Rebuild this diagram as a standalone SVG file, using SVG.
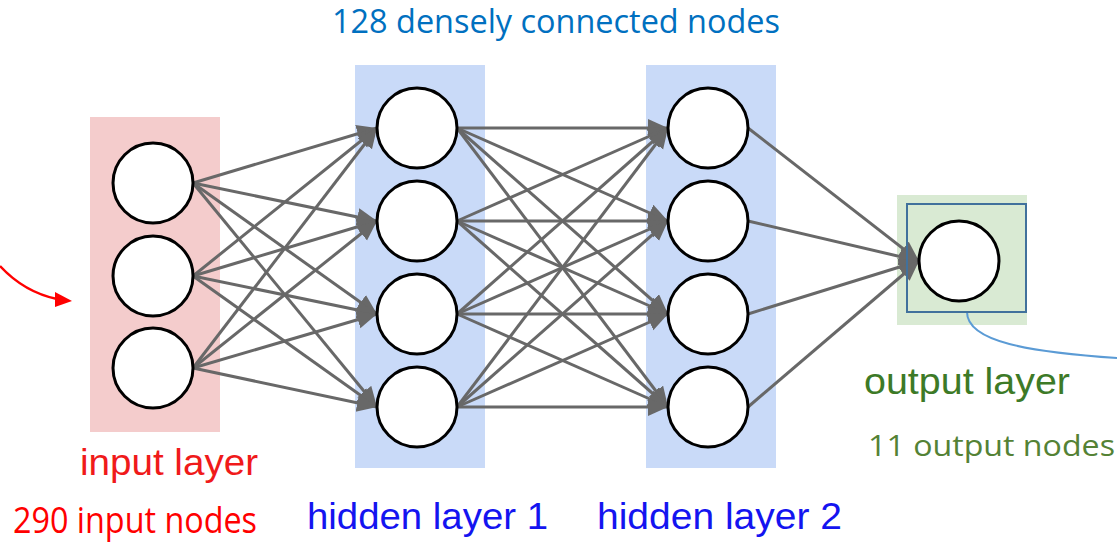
<svg xmlns="http://www.w3.org/2000/svg" width="1117" height="543" viewBox="0 0 1117 543">
  <style>
    .node { fill: #ffffff; stroke: #000000; stroke-width: 3; }
    .edge { stroke: #686868; stroke-width: 3; fill: none; marker-end: url(#arrow); }
    .arial { font-family: "Liberation Sans", Arial, sans-serif; }
    .calibri { font-family: "Open Sans", "Noto Sans", sans-serif; }
  </style>
  <defs>
    <marker id="arrow" markerUnits="userSpaceOnUse" markerWidth="22" markerHeight="20" refX="20" refY="9" orient="auto">
      <path d="M0,0 L20,9 L0,18 Z" fill="#686868"/>
    </marker>
  </defs>

  <rect width="1117" height="543" fill="#ffffff"/>

  <!-- layer bands -->
  <rect x="90" y="117" width="130" height="315" fill="#f4cccc"/>
  <rect x="355" y="65" width="130" height="403" fill="#c9daf8"/>
  <rect x="646" y="65" width="130" height="403" fill="#c9daf8"/>
  <rect x="897" y="195" width="130" height="130" fill="#d9ead3"/>

  <!-- connectors -->
  <g id="connectors">
    <!-- input -> hidden 1 -->
    <line class="edge" x1="193" y1="183" x2="377" y2="128"/>
    <line class="edge" x1="193" y1="183" x2="377" y2="221"/>
    <line class="edge" x1="193" y1="183" x2="377" y2="314"/>
    <line class="edge" x1="193" y1="183" x2="377" y2="407"/>
    <line class="edge" x1="193" y1="276" x2="377" y2="128"/>
    <line class="edge" x1="193" y1="276" x2="377" y2="221"/>
    <line class="edge" x1="193" y1="276" x2="377" y2="314"/>
    <line class="edge" x1="193" y1="276" x2="377" y2="407"/>
    <line class="edge" x1="193" y1="368" x2="377" y2="128"/>
    <line class="edge" x1="193" y1="368" x2="377" y2="221"/>
    <line class="edge" x1="193" y1="368" x2="377" y2="314"/>
    <line class="edge" x1="193" y1="368" x2="377" y2="407"/>
    <!-- hidden 1 -> hidden 2 -->
    <line class="edge" x1="457" y1="128" x2="668" y2="128"/>
    <line class="edge" x1="457" y1="128" x2="668" y2="221"/>
    <line class="edge" x1="457" y1="128" x2="668" y2="314"/>
    <line class="edge" x1="457" y1="128" x2="668" y2="407"/>
    <line class="edge" x1="457" y1="221" x2="668" y2="128"/>
    <line class="edge" x1="457" y1="221" x2="668" y2="221"/>
    <line class="edge" x1="457" y1="221" x2="668" y2="314"/>
    <line class="edge" x1="457" y1="221" x2="668" y2="407"/>
    <line class="edge" x1="457" y1="314" x2="668" y2="128"/>
    <line class="edge" x1="457" y1="314" x2="668" y2="221"/>
    <line class="edge" x1="457" y1="314" x2="668" y2="314"/>
    <line class="edge" x1="457" y1="314" x2="668" y2="407"/>
    <line class="edge" x1="457" y1="407" x2="668" y2="128"/>
    <line class="edge" x1="457" y1="407" x2="668" y2="221"/>
    <line class="edge" x1="457" y1="407" x2="668" y2="314"/>
    <line class="edge" x1="457" y1="407" x2="668" y2="407"/>
    <!-- hidden 2 -> output -->
    <line class="edge" x1="748" y1="128" x2="919" y2="261"/>
    <line class="edge" x1="748" y1="221" x2="919" y2="261"/>
    <line class="edge" x1="748" y1="314" x2="919" y2="261"/>
    <line class="edge" x1="748" y1="407" x2="919" y2="261"/>
    <!-- callout pointers -->
    <path d="M0,266 Q24,292 57,299" stroke="#ff0000" stroke-width="2.5" fill="none"/>
    <path d="M55,292 L72,301 L55,307 Z" fill="#ff0000"/>
    <path d="M967,312 C967,342 1030,352 1117,358" stroke="#5b9bd5" stroke-width="2" fill="none"/>
  </g>

  <!-- input layer -->
  <g id="input-layer">
    <circle class="node" cx="153" cy="183" r="40"/>
    <circle class="node" cx="153" cy="276" r="40"/>
    <circle class="node" cx="153" cy="368" r="40"/>
    <text class="arial" x="80" y="475" font-size="37" fill="#f01a1a" textLength="178" lengthAdjust="spacingAndGlyphs">input layer</text>
    <text class="calibri" x="13" y="533" font-size="36" fill="#ff0000" textLength="244" lengthAdjust="spacingAndGlyphs">290 input nodes</text>
  </g>

  <!-- hidden layer 1 -->
  <g id="hidden-layer-1">
    <circle class="node" cx="417" cy="128" r="40"/>
    <circle class="node" cx="417" cy="221" r="40"/>
    <circle class="node" cx="417" cy="314" r="40"/>
    <circle class="node" cx="417" cy="407" r="40"/>
    <text class="arial" x="307" y="529" font-size="36" fill="#1414f0" textLength="241" lengthAdjust="spacingAndGlyphs">hidden layer 1</text>
  </g>

  <!-- hidden layer 2 -->
  <g id="hidden-layer-2">
    <circle class="node" cx="708" cy="128" r="40"/>
    <circle class="node" cx="708" cy="221" r="40"/>
    <circle class="node" cx="708" cy="314" r="40"/>
    <circle class="node" cx="708" cy="407" r="40"/>
    <text class="arial" x="597" y="529" font-size="36" fill="#1414f0" textLength="245" lengthAdjust="spacingAndGlyphs">hidden layer 2</text>
  </g>

  <!-- output layer -->
  <g id="output-layer">
    <rect x="907" y="204" width="119" height="108" fill="none" stroke="#41719c" stroke-width="2"/>
    <circle class="node" cx="959" cy="261" r="40"/>
    <text class="arial" x="864" y="394" font-size="36" fill="#3d7a27" textLength="206" lengthAdjust="spacingAndGlyphs">output layer</text>
    <text class="calibri" x="868" y="456" font-size="29" fill="#548235" textLength="247" lengthAdjust="spacingAndGlyphs">11 output nodes</text>
  </g>

  <!-- heading -->
  <g id="heading">
    <text class="calibri" x="332" y="33" font-size="32" fill="#0070c0" textLength="448" lengthAdjust="spacingAndGlyphs">128 densely connected nodes</text>
  </g>
</svg>
